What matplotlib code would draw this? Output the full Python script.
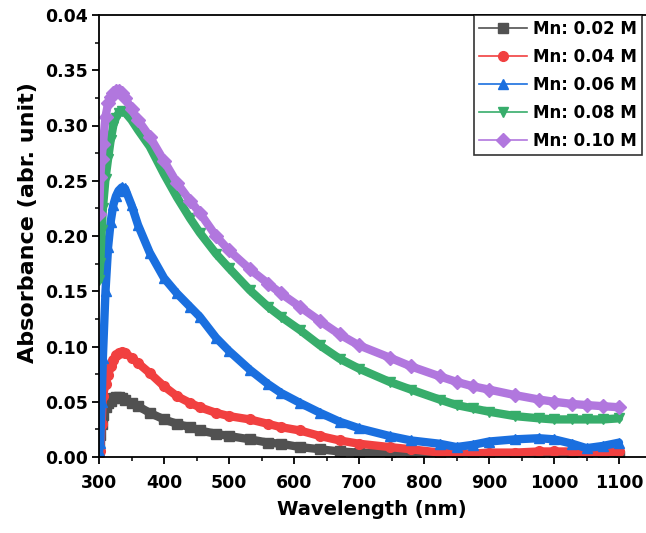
import matplotlib
matplotlib.use("Agg")
import matplotlib.pyplot as plt
from matplotlib.lines import Line2D
from matplotlib.ticker import MultipleLocator

# ----------------------------
# Data
# ----------------------------
wavelength = [300, 302, 304, 306, 310, 314, 318, 322, 326, 330, 335, 340, 350, 360,
              378, 400, 420, 440, 455, 480, 500, 532, 560, 580, 609, 640, 670, 700,
              747, 780, 824, 850, 875, 900, 940, 977, 1000, 1028, 1050, 1075, 1100]

mn_002 = [0.010, 0.020, 0.030, 0.038, 0.045, 0.049, 0.051, 0.053, 0.054, 0.054, 0.053,
          0.052, 0.049, 0.046, 0.040, 0.034, 0.030, 0.027, 0.024, 0.021, 0.019, 0.016,
          0.013, 0.012, 0.009, 0.007, 0.005, 0.004, 0.003, 0.002, 0.002, 0.001, 0.001,
          0.001, 0.001, 0.001, 0.001, 0.001, 0.001, 0.001, 0.001]
mn_004 = [0.003, 0.005, 0.030, 0.055, 0.066, 0.074, 0.082, 0.088, 0.092, 0.094, 0.095,
          0.094, 0.090, 0.085, 0.076, 0.064, 0.055, 0.049, 0.045, 0.040, 0.037, 0.034,
          0.030, 0.027, 0.024, 0.019, 0.015, 0.012, 0.009, 0.007, 0.004, 0.003, 0.003,
          0.004, 0.004, 0.005, 0.005, 0.005, 0.004, 0.004, 0.005]
mn_006 = [0.005, 0.013, 0.050, 0.090, 0.150, 0.190, 0.213, 0.228, 0.236, 0.241, 0.244,
          0.243, 0.228, 0.210, 0.185, 0.162, 0.148, 0.136, 0.127, 0.108, 0.096, 0.079,
          0.066, 0.058, 0.049, 0.040, 0.032, 0.026, 0.019, 0.015, 0.012, 0.009, 0.011,
          0.014, 0.016, 0.017, 0.016, 0.012, 0.008, 0.010, 0.013]
mn_008 = [0.160, 0.176, 0.205, 0.225, 0.252, 0.270, 0.287, 0.300, 0.307, 0.311, 0.313,
          0.312, 0.305, 0.296, 0.281, 0.256, 0.235, 0.216, 0.203, 0.184, 0.171, 0.151,
          0.136, 0.127, 0.115, 0.101, 0.089, 0.080, 0.068, 0.061, 0.052, 0.047, 0.044,
          0.041, 0.037, 0.035, 0.034, 0.034, 0.034, 0.034, 0.035]
mn_010 = [0.220, 0.253, 0.270, 0.283, 0.308, 0.320, 0.326, 0.329, 0.331, 0.331, 0.329,
          0.325, 0.315, 0.305, 0.290, 0.268, 0.248, 0.232, 0.221, 0.200, 0.187, 0.170,
          0.157, 0.148, 0.136, 0.123, 0.111, 0.101, 0.090, 0.082, 0.073, 0.068, 0.064,
          0.061, 0.056, 0.052, 0.050, 0.048, 0.047, 0.046, 0.045]

series = [mn_002, mn_004, mn_006, mn_008, mn_010]
labels = ["Mn: 0.02 M", "Mn: 0.04 M", "Mn: 0.06 M", "Mn: 0.08 M", "Mn: 0.10 M"]
colors = ["#515151", "#F14040", "#1A6FDF", "#37AD6B", "#B177DE"]
markers = ["s", "o", "^", "v", "D"]

y_ticks = [0.00, 0.05, 0.10, 0.15, 0.20, 0.25, 0.30, 0.35, 0.40]
y_tick_labels = ["0.00", "0.05", "0.10", "0.15", "0.20", "0.25", "0.30", "0.35", "0.04"]
x_ticks = [300, 400, 500, 600, 700, 800, 900, 1000, 1100]

# ----------------------------
# Plot
# ----------------------------
plt.rcParams["font.family"] = "DejaVu Sans"
plt.rcParams["font.weight"] = "bold"

fig = plt.figure(figsize=(6.46, 5.33), dpi=100)
# axes run past the right edge of the picture, as in the reference
ax = fig.add_axes([99 / 646, 1 - 457 / 533, 572 / 646, 442 / 533])

for y, c, m in zip(series, colors, markers):
    ax.plot(wavelength, y, color=c, lw=6, solid_capstyle="round", solid_joinstyle="round")
    ax.plot(wavelength, y, color=c, lw=1.2, marker=m, ms=7, mec=c, mfc=c)

ax.set_xlim(300, 1180)
ax.set_ylim(0, 0.40)
ax.set_xticks(x_ticks)
ax.set_yticks(y_ticks)
ax.set_yticklabels(y_tick_labels)
ax.xaxis.set_minor_locator(MultipleLocator(50))
ax.yaxis.set_minor_locator(MultipleLocator(0.025))
ax.tick_params(which="major", direction="out", length=5, width=1.3, labelsize=12.5, pad=3)
ax.tick_params(axis="x", which="major", pad=7)
ax.tick_params(which="minor", direction="out", length=3, width=1.1)
for s in ["top", "bottom", "left", "right"]:
    ax.spines[s].set_linewidth(1.3)
for lab in ax.get_xticklabels() + ax.get_yticklabels():
    lab.set_fontweight("bold")

ax.set_xlabel("Wavelength (nm)", fontsize=14, fontweight="bold")
ax.set_ylabel("Absorbance (abr. unit)", fontsize=16, fontweight="bold")
ax.xaxis.set_label_coords((372 - 99) / 572, -(500 - 457) / 442)
ax.yaxis.set_label_coords(-(99 - 38) / 572, 0.53)

handles = [Line2D([0], [0], color=c, lw=1.2, marker=m, ms=7, mec=c, mfc=c)
           for c, m in zip(colors, markers)]
leg = fig.legend(handles, labels, loc="upper left",
                 bbox_to_anchor=(474 / 646, 1 - 15 / 533), borderaxespad=0,
                 frameon=True, fancybox=False, edgecolor="black",
                 handlelength=2.9, handletextpad=0.35, labelspacing=0.6,
                 borderpad=0.3, prop={"weight": "bold", "size": 12})
leg.get_frame().set_linewidth(1.2)

fig.savefig("out.png", dpi=100)
